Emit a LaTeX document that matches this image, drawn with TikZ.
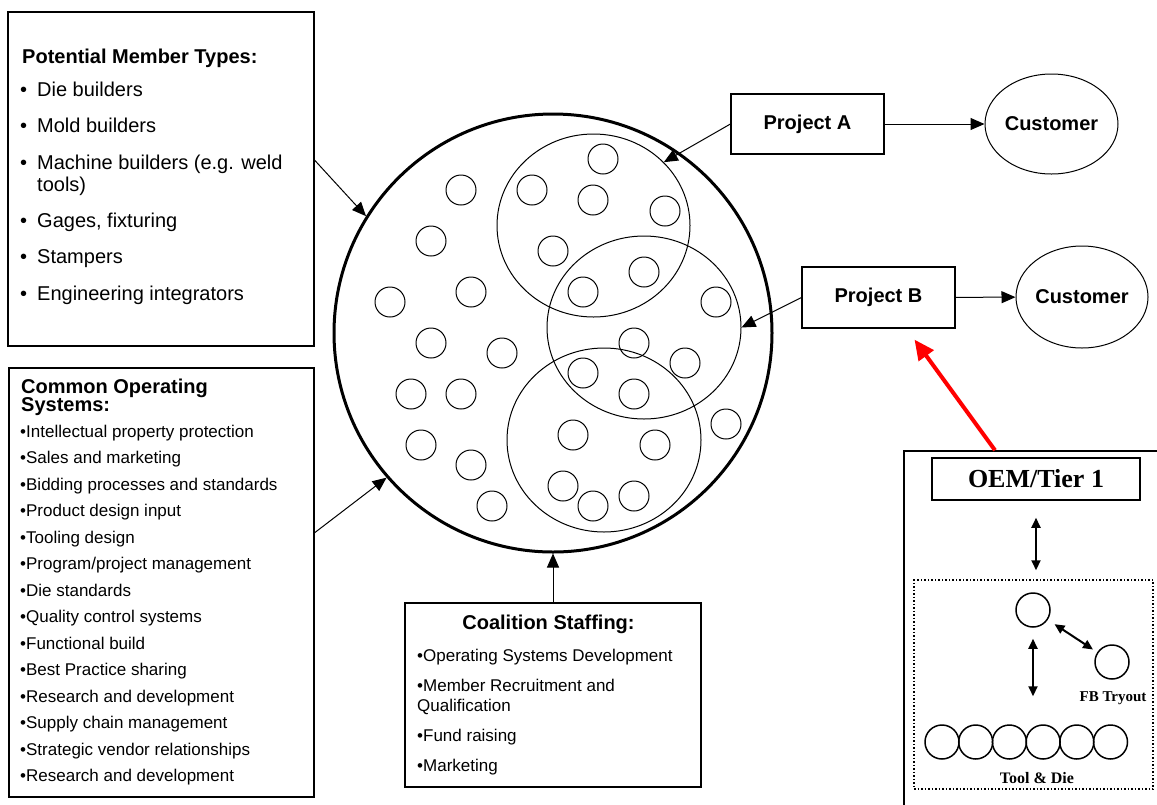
\documentclass[tikz,border=0pt]{standalone}
\usepackage{fontspec}
\setmainfont{Liberation Serif}
\setsansfont{Liberation Sans}
\usetikzlibrary{arrows.meta}
\usetikzlibrary{shapes.geometric}
\usetikzlibrary{calc}
\definecolor{oemred}{HTML}{FF0000}

\tikzset{
	box/.style={draw, line width=1.2pt, inner sep=0pt},
	feed/.style={line width=1pt, -{Triangle[length=14pt,width=12pt]}},
	twoway/.style={line width=2pt, {Triangle[length=10pt,width=9pt]}-{Triangle[length=10pt,width=9pt]}},
	member/.style={draw, circle, line width=1pt, minimum size=30pt, inner sep=0pt},
	team/.style={draw, ellipse, line width=1pt, inner sep=0pt},
	shop/.style={draw, circle, line width=1.5pt, minimum size=34pt, inner sep=0pt},
	bigentry/.style={anchor=base west, inner sep=0pt, font=\fontsize{20}{22}\selectfont\sffamily},
	entry/.style={anchor=base west, inner sep=0pt, font=\fontsize{17}{20}\selectfont\sffamily},
	head/.style={inner sep=0pt, font=\fontsize{20}{22}\selectfont\sffamily\bfseries}
}

\begin{document}
\begin{tikzpicture}[x=1pt, y=-1pt]
	\clip (0,0) rectangle (1157,804);
	%member types
	\node[box, minimum width=306pt, minimum height=334pt] (members) at (161,179) {};
	\node[head, anchor=base west] (mtitle) at (22,63) {Potential Member Types:};
	\foreach \y/\txt [count=\i] in {96/Die builders, 132.5/Mold builders, 169.5/{Machine builders (e.g. weld}, 227/{Gages, fixturing}, 263.5/Stampers, 300.5/Engineering integrators}
	{
		\node[bigentry] (mb\i) at (20,\y) {•};
		\node[bigentry] (mt\i) at (37,\y) {\txt};
	}
	\node[bigentry] (mt7) at (37,191) {tools)};
	%operating systems
	\node[box, minimum width=305pt, minimum height=429pt] (systems) at (161.5,582.5) {};
	\node[head, anchor=base west] (stitle) at (21,393) {Common Operating};
	\node[head, anchor=base west] (stitle2) at (21,411) {Systems:};
	\foreach \txt [count=\i from 0] in {Intellectual property protection, Sales and marketing, Bidding processes and standards, Product design input, Tooling design, Program/project management, Die standards, Quality control systems, Functional build, Best Practice sharing, Research and development, Supply chain management, Strategic vendor relationships, Research and development}
	\node[entry] (os\i) at (20,{437.3+26.5*\i}) {•\txt};
	%staffing
	\node[box, minimum width=296pt, minimum height=184pt] (staffing) at (553,695) {};
	\node[head, anchor=base] (ctitle) at (548.5,629) {Coalition Staffing:};
	\node[entry] (cs1) at (417,661.7) {•Operating Systems Development};
	\node[entry] (cs2) at (417,691.7) {•Member Recruitment and};
	\node[entry] (cs3) at (417,711.7) {Qualification};
	\node[entry] (cs4) at (417,741.7) {•Fund raising};
	\node[entry] (cs5) at (417,771.7) {•Marketing};
	%coalition
	\node[draw, circle, line width=3pt, minimum size=438pt, inner sep=0pt] (pool) at (553,333) {};
	\node[team, minimum width=193pt, minimum height=183pt] (teamA) at (593.5,225.5) {};
	\node[team, minimum width=194pt, minimum height=183pt] (teamB) at (644,327.5) {};
	\node[team, minimum width=194pt, minimum height=184pt] (teamC) at (604,440) {};
	\foreach \x/\y [count=\i] in {603/159, 532/190, 593/200, 665/211, 461/190, 431/241, 553/251, 644/272, 583/292, 471/292, 390/302, 716/302, 431/343, 502/353, 634/343, 685/363, 583/373, 411/394, 461/394, 634/394, 726/424, 573/435, 655/445, 421/445, 471/465, 563/486, 634/496, 593/506, 492/506}
	\node[member] (m\i) at (\x,\y) {};
	%projects
	\node[box, minimum width=153pt, minimum height=60pt, font=\fontsize{20}{22}\selectfont\sffamily\bfseries] (projA) at (807.5,124) {Project A};
	\node[draw, ellipse, line width=1pt, minimum width=133pt, minimum height=100pt, inner sep=0pt, font=\fontsize{20}{22}\selectfont\sffamily\bfseries] (custA) at (1051.5,124) {Customer};
	\node[box, minimum width=153pt, minimum height=61pt, font=\fontsize{20}{22}\selectfont\sffamily\bfseries] (projB) at (878.5,297.5) {Project B};
	\node[draw, ellipse, line width=1pt, minimum width=132pt, minimum height=102pt, inner sep=0pt, font=\fontsize{20}{22}\selectfont\sffamily\bfseries] (custB) at (1082,297) {Customer};
	\draw[feed] (members.7) -- (pool.148);
	\draw[feed] (systems.18) -- (pool.221);
	\draw[feed] (staffing.north) -- (pool.south);
	\draw[feed] (projA.west) -- (teamA.42);
	\draw[feed] (projB.west) -- (teamB.east);
	\draw[feed] (projA) -- (custA);
	\draw[feed] (projB) -- (custB);
	%oem side
	\node[draw, line width=1.5pt, minimum width=276pt, minimum height=379pt] (plant) at (1042,640.5) {};
	\node[draw, line width=1.5pt, minimum width=208pt, minimum height=42pt, inner sep=0pt, font=\fontsize{26}{28}\selectfont\bfseries] (oem) at (1036,479) {OEM/Tier 1};
	\node[draw, dotted, line width=1.5pt, minimum width=239pt, minimum height=209pt] (tryzone) at (1033.5,684.5) {};
	\node[shop] (die) at (1033,610) {};
	\node[shop] (fb) at (1112,662) {};
	\foreach \i in {0,...,5}
	\node[shop] (td\i) at ({942+33.7*\i},742) {};
	\node[inner sep=0pt, font=\fontsize{15}{17}\selectfont\bfseries] (fbname) at (1113,698) {FB Tryout};
	\node[inner sep=0pt, font=\fontsize{16}{18}\selectfont\bfseries] (tdname) at (1037,778) {Tool \& Die};
	\draw[twoway, shorten <=17pt, shorten >=9pt] (oem.south) -- (oem.south |- tryzone.north);
	\draw[twoway, shorten <=8pt, shorten >=5pt] (die) -- (fb);
	\draw[twoway, shorten <=11pt, shorten >=28pt] (die.south) -- (die.south |- td3.north);
	\draw[oemred, line width=4pt, -{Triangle[length=20pt,width=18pt]}] ([xshift=-47pt]plant.north) -- ([xshift=36pt,yshift=-11pt]projB.south);
\end{tikzpicture}
\end{document}
